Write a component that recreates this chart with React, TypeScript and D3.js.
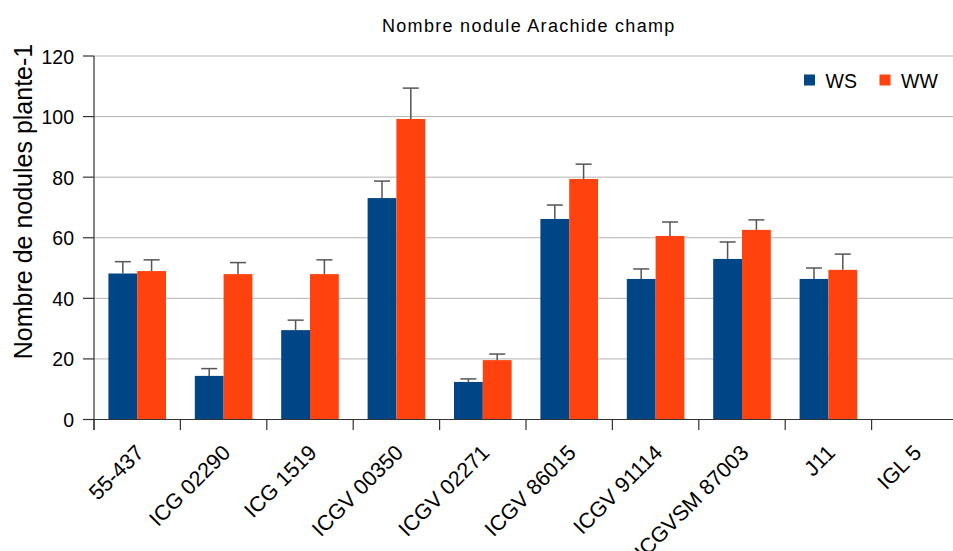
import React from "react";
import * as d3 from "d3";

const categories = [
  "55-437",
  "ICG 02290",
  "ICG 1519",
  "ICGV 00350",
  "ICGV 02271",
  "ICGV 86015",
  "ICGV 91114",
  "ICGVSM 87003",
  "J11",
  "IGL 5",
];
const wsValues = [48.2, 14.4, 29.5, 73.1, 12.4, 66.2, 46.4, 53.0, 46.4, 0];
const wsErrors = [3.9, 2.4, 3.3, 5.6, 1.0, 4.6, 3.3, 5.6, 3.6, 0];
const wwValues = [49.0, 48.0, 48.0, 99.2, 19.6, 79.4, 60.6, 62.6, 49.4, 0];
const wwErrors = [3.7, 3.8, 4.7, 10.2, 2.0, 4.9, 4.6, 3.3, 5.2, 0];
const yTicks = [0, 20, 40, 60, 80, 100, 120];
const seriesNames = ["WS", "WW"];
const seriesColors = ["#004586", "#ff420e"];

const W = 953;
const H = 551;
const left = 94;
const bandW = 86.4;
const right = left + bandW * categories.length;
const y0 = 419.5;
const yTop = 56;
const FONT = "'Liberation Sans', Arial, sans-serif";

export default function App() {
  const x = d3.scaleBand<string>().domain(categories).range([left, right]).paddingInner(0).paddingOuter(0);
  const sub = d3.scaleBand<string>().domain(seriesNames).range([0, x.bandwidth()]).paddingInner(0).paddingOuter(0.5);
  const y = d3.scaleLinear().domain([0, 120]).range([y0, yTop]);
  const series = [
    { name: "WS", values: wsValues, errors: wsErrors, color: seriesColors[0] },
    { name: "WW", values: wwValues, errors: wwErrors, color: seriesColors[1] },
  ];
  const axisColor = "#333";
  const errColor = "#555";
  return (
    <svg width={W} height={H} style={{ position: "absolute", left: 0, top: 0, background: "#fff" }} fontFamily={FONT}>
      <rect x={0} y={0} width={W} height={H} fill="#fff" />
      <text x={382} y={31.5} fontSize={18} letterSpacing={1.3} fill="#000">
        Nombre nodule Arachide champ
      </text>
      {yTicks.filter((t) => t > 0).map((t) => (
        <line key={"g" + t} x1={left} x2={W} y1={y(t)} y2={y(t)} stroke="#b3b3b3" strokeWidth={1} />
      ))}
      {series.map((s, si) =>
        categories.map((c, i) => {
          const bx = (x(c) as number) + (sub(s.name) as number);
          const bw = sub.bandwidth();
          const v = s.values[i];
          if (v <= 0) return null;
          return <rect key={s.name + c} x={bx} y={y(v)} width={bw} height={y0 - y(v)} fill={s.color} />;
        })
      )}
      {series.map((s) =>
        categories.map((c, i) => {
          const v = s.values[i];
          if (v <= 0) return null;
          const cx = (x(c) as number) + (sub(s.name) as number) + sub.bandwidth() / 2;
          const top = y(v + s.errors[i]);
          return (
            <g key={"e" + s.name + c} stroke={errColor} strokeWidth={1.5}>
              <line x1={cx} x2={cx} y1={y(v)} y2={top} />
              <line x1={cx - 8} x2={cx + 8} y1={top} y2={top} />
            </g>
          );
        })
      )}
      <line x1={left} x2={left} y1={yTop} y2={430} stroke={axisColor} strokeWidth={1.2} />
      <line x1={83} x2={W} y1={y0} y2={y0} stroke={axisColor} strokeWidth={1.2} />
      {yTicks.map((t) => (
        <g key={"t" + t}>
          <line x1={83} x2={left} y1={y(t)} y2={y(t)} stroke={axisColor} strokeWidth={1.2} />
          <text x={74} y={y(t) + 7.5} textAnchor="end" fontSize={19.5} fill="#000">
            {t}
          </text>
        </g>
      ))}
      {categories.map((c) => (
        <line key={"xt" + c} x1={x(c) as number} x2={x(c) as number} y1={y0} y2={430} stroke={axisColor} strokeWidth={1.2} />
      ))}
      {categories.map((c) => {
        const cx = (x(c) as number) + x.bandwidth() / 2;
        return (
          <text
            key={"xl" + c}
            transform={`translate(${cx + 8},${454}) rotate(-45)`}
            textAnchor="end"
            fontSize={21.5}
            fill="#000"
          >
            {c}
          </text>
        );
      })}
      <text transform={`translate(32,201.5) rotate(-90)`} textAnchor="middle" fontSize={25} fill="#000">
        Nombre de nodules plante-1
      </text>
      {series.map((s, si) => {
        const lx = si === 0 ? 804 : 879.5;
        return (
          <g key={"lg" + s.name}>
            <rect x={lx} y={74.5} width={11} height={11} fill={s.color} />
            <text x={lx + 21.5} y={88} fontSize={19.5} fill="#000">
              {s.name}
            </text>
          </g>
        );
      })}
    </svg>
  );
}
